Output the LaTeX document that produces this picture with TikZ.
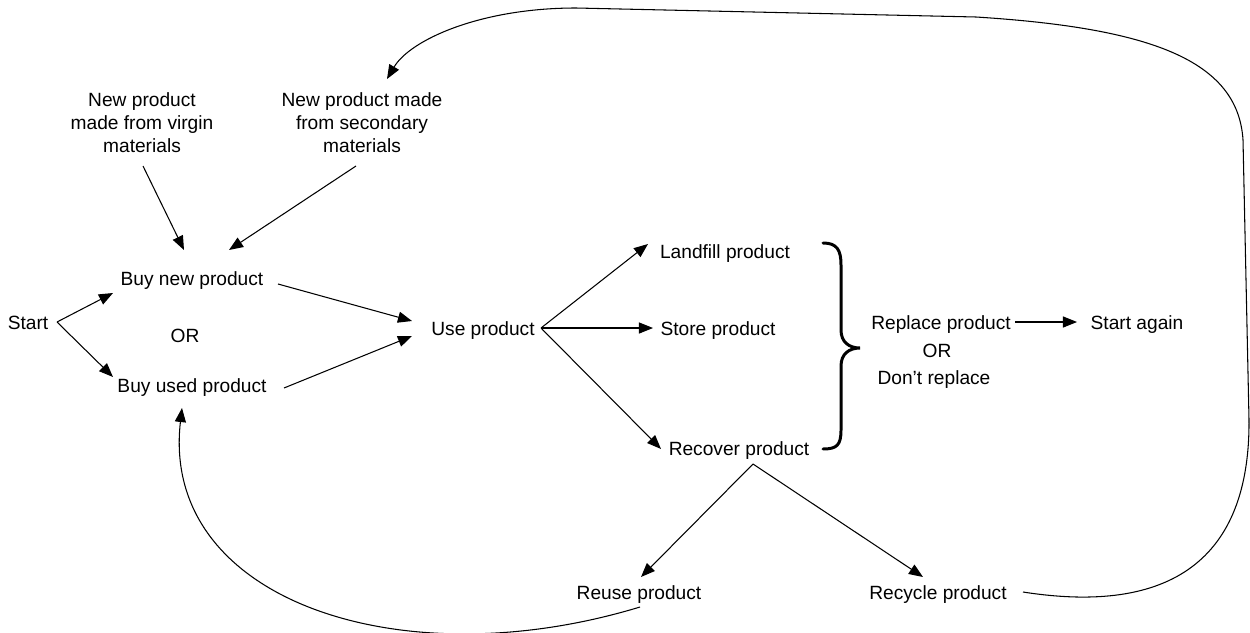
\documentclass[tikz,border=0pt]{standalone}
\usepackage{fontspec}
\setmainfont{Liberation Sans}
\usetikzlibrary{arrows.meta}
\begin{document}
\begin{tikzpicture}[x=0.02cm,y=-0.02cm,
  lbl/.style={inner sep=0pt,font=\fontsize{10.9pt}{13.1pt}\selectfont,text height=1.03em,text depth=0.21em},
  mlbl/.style={inner sep=0pt,font=\fontsize{10.9pt}{13.1pt}\selectfont,align=center},
  arr/.style={line width=0.6pt,-{Triangle[length=8pt,width=6.3pt]}},
  loop/.style={line width=0.6pt,-{Triangle[length=8pt,width=6.3pt]}},
  bracestyle/.style={line width=1.7pt,line cap=round}]
\useasboundingbox (0,0) rectangle (1250,632);

\node[lbl] (start) at (28,322) {Start};
\node[lbl] (bnew) at (192,278) {Buy new product};
\node[lbl] (or1) at (185,335) {OR};
\node[lbl] (bused) at (192,385) {Buy used product};
\node[mlbl] (virgin) at (142,123) {New product\\made from virgin\\materials};
\node[mlbl] (second) at (362,123) {New product made\\from secondary\\materials};
\node[lbl] (use) at (483,328) {Use product};
\node[lbl] (land) at (725,251) {Landfill product};
\node[lbl] (store) at (718,328) {Store product};
\node[lbl] (recover) at (739,448) {Recover product};
\node[lbl] (replace) at (941,322) {Replace product};
\node[lbl] (or2) at (937,350) {OR};
\node[lbl] (dont) at (934,377) {Don’t replace};
\node[lbl] (again) at (1137,322) {Start again};
\node[lbl] (reuse) at (639,592) {Reuse product};
\node[lbl] (recycle) at (938,592) {Recycle product};

% arrows
\draw[arr] ([shift={(29,0)}]start.center) -- ([shift={(-79,15)}]bnew.center);
\draw[arr] ([shift={(29,0)}]start.center) -- ([shift={(-79,-8)}]bused.center);
\draw[arr] ([shift={(1,43)}]virgin.center) -- ([shift={(-8,-28)}]bnew.center);
\draw[arr] ([shift={(-6,43)}]second.center) -- ([shift={(37,-28)}]bnew.center);
\draw[arr] ([shift={(86,6)}]bnew.center) -- ([shift={(-71,-7)}]use.center);
\draw[arr] ([shift={(92,3)}]bused.center) -- ([shift={(-71,8)}]use.center);
\draw[arr] ([shift={(58,0)}]use.center) -- ([shift={(-77,-7)}]land.center);
\draw[arr] ([shift={(58,0)}]use.center) -- ([shift={(-65,0)}]store.center);
\draw[arr] ([shift={(58,0)}]use.center) -- ([shift={(-78,1)}]recover.center);
\draw[arr] ([shift={(14,16)}]recover.center) -- ([shift={(2,-15)}]reuse.center);
\draw[arr] ([shift={(14,16)}]recover.center) -- ([shift={(-15,-15)}]recycle.center);
\draw[arr] ([shift={(74,0)}]replace.center) -- ([shift={(-60,0)}]again.center);

% loops
\draw[loop] ([shift={(1,15)}]reuse.center) .. controls (400,680) and (160,600) .. ([shift={(-10,23)}]bused.center);
\draw[loop] ([shift={(85,0)}]recycle.center) .. controls (1170,615) and (1250,560) .. (1249,420)
  -- (1243,140) .. controls (1238,60) and (1150,28) .. (976,17)
  -- (576,8) .. controls (480,8) and (410,40) .. ([shift={(25,-44)}]second.center);

% brace
\draw[bracestyle] (823,243) .. controls (837,243) and (841,250) .. (841,265) -- (841,330)
  .. controls (841,342) and (849,348) .. (860,348)
  .. controls (849,348) and (841,354) .. (841,366) -- (841,430)
  .. controls (841,445) and (837,449) .. (823,449);
\end{tikzpicture}
\end{document}
